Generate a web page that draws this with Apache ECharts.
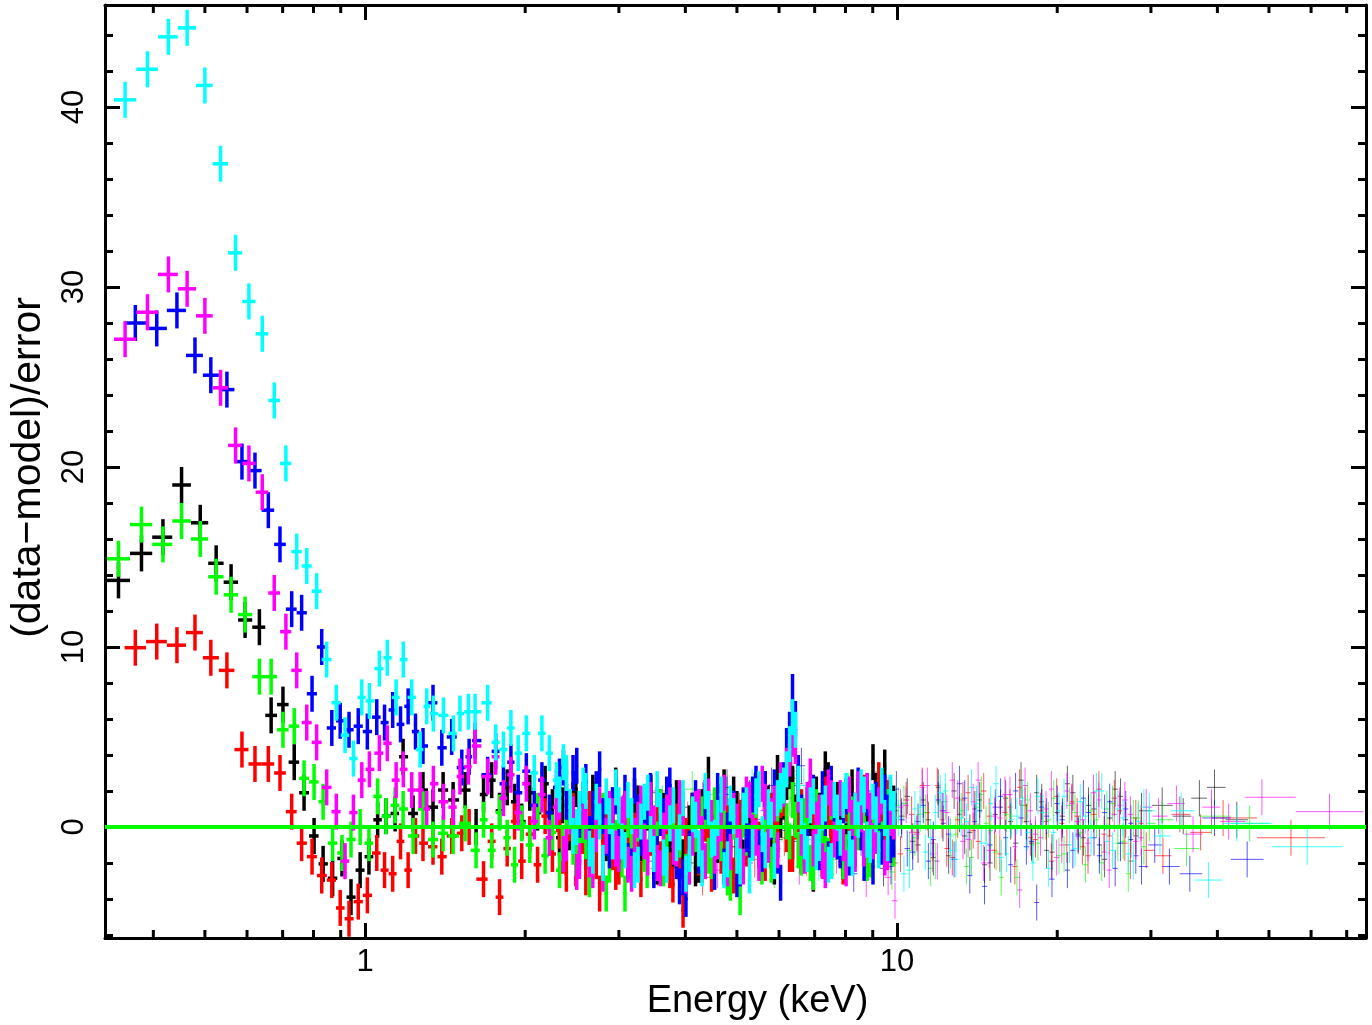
<!DOCTYPE html>
<html>
<head>
<meta charset="utf-8">
<script src="https://cdn.jsdelivr.net/npm/echarts@6/dist/echarts.min.js"></script>
<style>
html,body{margin:0;padding:0;background:#fff;}
#main{width:1372px;height:1025px;}
</style>
</head>
<body>
<div id="main"></div>
<script>
// ---------- data: [energy keV, (data-model)/error], errors are +-1 sigma ----------
// thick points (low energy, 0.3-10 keV)
var blackLow = [[0.344,13.7],[0.380,15.2],[0.417,16.1],[0.452,19.0],[0.490,16.9],[0.525,14.65],[0.560,13.6],[0.595,11.5],[0.633,11.1],[0.666,6.2],[0.701,6.8],[0.736,3.6],[0.768,1.9],[0.802,-0.5],[0.834,-2.05],[0.869,-2.85],[0.905,-1.75],[0.941,-3.9],[0.979,-2.4],[1.017,-1.65],[1.056,0.4],[1.095,0.6],[1.139,0.75],[1.179,3.9],[1.231,0.75],[1.285,2.05],[1.342,1.1],[1.402,2.05],[1.464,1.5],[1.542,2.05],[1.617,0.0]];
var greenLow = [[0.344,14.9],[0.380,16.8],[0.417,15.7],[0.452,17.0],[0.490,16.0],[0.525,13.9],[0.560,12.9],[0.595,11.8],[0.633,8.35],[0.666,8.35],[0.701,5.4],[0.736,5.6],[0.768,2.7],[0.802,2.5],[0.834,1.4],[0.869,-0.9],[0.905,-1.45],[0.941,-0.7],[0.979,0.0],[1.017,-0.9],[1.056,1.7],[1.095,0.6],[1.139,1.2],[1.179,1.0],[1.231,-0.5],[1.285,1.0],[1.342,-0.7],[1.402,-0.35],[1.464,-0.5],[1.542,0.2],[1.617,-1.3]];
var redLow = [[0.370,9.96],[0.406,10.3],[0.443,10.1],[0.479,10.8],[0.513,9.4],[0.550,8.7],[0.587,4.3],[0.621,3.5],[0.658,3.5],[0.692,3.0],[0.728,0.85],[0.760,-0.9],[0.795,-1.65],[0.829,-2.7],[0.866,-2.95],[0.898,-4.5],[0.933,-5.1],[0.971,-4.15],[1.010,-3.8],[1.052,-1.45],[1.088,-2.4],[1.127,-2.6],[1.166,-0.8],[1.205,-2.4],[1.244,-0.5],[1.285,-0.9],[1.342,-1.1],[1.394,-1.65],[1.455,-0.5],[1.520,-0.35],[1.569,0.0]];
var blueLow = [[0.370,28.0],[0.406,27.7],[0.443,28.7],[0.479,26.2],[0.513,25.1],[0.550,24.3],[0.587,20.3],[0.621,19.8],[0.658,17.6],[0.692,15.7],[0.728,12.1],[0.760,11.9],[0.795,7.4],[0.829,10.0],[0.866,5.5],[0.898,5.9],[0.933,5.4],[0.971,5.6],[1.010,5.3],[1.052,6.1],[1.088,5.8],[1.127,6.5],[1.166,5.7],[1.205,6.7],[1.244,5.3],[1.285,4.5],[1.342,6.9],[1.394,4.4],[1.455,5.0],[1.520,3.3],[1.569,3.9]];
var magentaLow = [[0.354,27.1],[0.390,28.6],[0.427,30.7],[0.463,29.9],[0.500,28.4],[0.535,24.4],[0.571,21.2],[0.605,20.2],[0.641,18.6],[0.675,13.0],[0.710,10.85],[0.744,8.7],[0.777,5.8],[0.811,4.7],[0.847,2.2],[0.883,0.85],[0.917,-1.9],[0.951,0.8],[0.986,2.6],[1.019,3.2],[1.064,4.1],[1.101,4.65],[1.144,2.6],[1.180,3.2],[1.224,2.05],[1.269,2.05],[1.306,1.0],[1.344,2.4],[1.404,1.4],[1.466,1.1],[1.508,2.8],[1.564,3.35]];
var cyanLow = [[0.354,40.4],[0.390,42.1],[0.427,43.9],[0.463,44.4],[0.500,41.2],[0.535,36.85],[0.571,31.9],[0.605,29.2],[0.641,27.4],[0.675,23.7],[0.710,20.2],[0.744,15.3],[0.777,14.5],[0.811,13.1],[0.847,9.3],[0.883,6.9],[0.917,5.1],[0.951,3.8],[0.986,7.2],[1.019,7.0],[1.064,8.8],[1.101,9.4],[1.144,7.2],[1.180,9.3],[1.224,7.2],[1.269,4.3],[1.306,6.7],[1.344,6.3],[1.404,6.2],[1.466,5.2],[1.508,6.3],[1.564,6.4]];

// thick points, dense part (channel energies shared per detector group)
var gridA = [1.67,1.73,1.79,1.85,1.91,1.97,2.04,2.11,2.18,2.25,2.32,2.39,2.46,2.53,2.60,2.68,2.76,2.84,2.92,3.00,3.08,3.17,3.26,3.35,3.44,3.54,3.64,3.74,3.85,3.96,4.07,4.18,4.30,4.42,4.54,4.67,4.80,4.93,5.07,5.21,5.35,5.50,5.65,5.80,5.96,6.12,6.28,6.44,6.61,6.78,6.96,7.14,7.33,7.52,7.72,7.92,8.13,8.34,8.56,8.78,9.01,9.24,9.48,9.72];
var gridA2 = [2.35,2.42,2.49,2.56,2.64,2.72,2.80,2.88,2.96,3.04,3.12,3.21,3.30,3.39,3.49,3.59,3.69,3.79,3.90,4.01,4.12,4.24,4.36,4.48,4.60,4.73,4.86,5.00,5.14,5.28,5.42,5.57,5.72,5.88,6.04,6.20,6.36,6.52,6.69,6.87,7.05,7.23,7.42,7.62,7.82,8.02,8.23,8.45,8.67,8.90,9.12,9.36,9.60,9.85];
var gridB = [1.61,1.70,1.76,1.82,1.88,1.94,2.01,2.08,2.15,2.22,2.29,2.36,2.43,2.50,2.57,2.64,2.72,2.80,2.88,2.96,3.04,3.12,3.21,3.30,3.40,3.49,3.59,3.69,3.80,3.90,4.01,4.13,4.24,4.36,4.48,4.60,4.73,4.86,5.00,5.14,5.28,5.43,5.58,5.73,5.88,6.04,6.20,6.36,6.52,6.70,6.87,7.05,7.24,7.43,7.62,7.82,8.02,8.24,8.45,8.67,8.90,9.13,9.36,9.60,9.85];
var gridB2 = [2.32,2.39,2.46,2.53,2.60,2.68,2.76,2.84,2.92,3.00,3.08,3.17,3.26,3.35,3.44,3.54,3.64,3.74,3.85,3.96,4.07,4.18,4.30,4.42,4.54,4.67,4.80,4.93,5.07,5.21,5.35,5.50,5.65,5.80,5.96,6.12,6.28,6.44,6.61,6.78,6.96,7.14,7.33,7.52,7.72,7.92,8.13,8.34,8.56,8.78,9.01,9.24,9.48,9.72];

var blackDense = [1.8,2.6,0.9,2.2,1.4,0.3,1.9, 0.8,2.4,1.1,-0.6,2.7,1.5,0.2,-1.4, 1.9,0.5,-0.9,1.2,-1.8,0.7,-0.4, 1.3,-1.1,0.4,-2.2,0.9,-0.5,1.6,-1.7, 0.2,-2.3,1.1,2.9,-0.8,0.5,-1.5,1.8, -2.0,0.6,1.3,-0.9,2.1,-1.3,3.0, 1.4,3.1,0.8,-1.6,1.2,-2.6, 0.9,3.2,-0.7,1.5,-1.9, 0.4,-1.2,1.9,0.3,3.6,-0.9,3.3,0.6];
var blackDense2 = [1.2,-0.3,2.1,0.6,-1.1,1.5,0.2,-0.7,2.3, -1.2,0.5,1.7,-0.9,0.8,-1.9,1.1,0.1,-1.3, 1.4,-0.6,0.9,-2.1,1.6,0.3,-1.0,2.2,-0.4, 1.0,-1.7,0.6,2.0,-0.8,1.3,-2.2,0.4,2.5, 2.4,0.9,-1.1,0.5,1.8,-1.4,2.6,-0.3,1.1, -0.8,2.2,0.1,1.4,-1.5,2.0,0.5,-0.6,1.3];
var redDense = [-2.9,-0.8,-3.9,-1.2,0.3,-1.9,-0.4, -2.1,0.6,-1.5,-0.2,-2.6,0.9,-1.1,-2.8, -0.5,-3.7,0.2,-1.4,-2.2,0.8,-0.9, -1.8,0.4,-0.6,1.2,-1.3,-2.4,0.3,-4.6, -1.0,0.7,-2.1,-0.3,1.0,-1.6,0.2,-2.7, 0.5,-1.2,1.4,-0.7,-2.0,0.9,-0.4, 1.6,-1.5,0.3,1.1,-0.9,0.6, -1.3,1.8,-0.5,0.4,-2.2, 0.8,-0.6,1.3,-1.8,0.2,2.6,-0.3,0.9];
var redDense2 = [-1.6,0.2,-2.3,-0.5,1.0,-1.9,-0.8,0.5,-2.5, 0.3,-1.4,-0.2,-2.9,0.9,-0.7,-1.8,0.6,-3.2, -2.0,-0.5,0.8,-1.7,0.2,-2.6,0.9,-0.8,-1.3, -2.4,0.6,-0.9,1.2,-1.6,0.3,-0.6,1.5,-0.4, -1.5,0.7,-1.0,1.4,-0.3,-1.8,1.1,0.2,-1.2, 1.3,-0.9,0.4,1.9,-1.3,0.7,-0.2,1.6,-0.8];
var greenDense = [0.4,-1.3,0.8,-0.6,-2.1,0.2,-1.0, 0.9,-1.6,-0.3,-2.4,0.5,-1.1,0.1,-0.8, -1.9,0.6,-3.7,-0.5,0.3,-3.7,-1.2, 0.2,-1.5,0.9,-0.7,-2.3,0.4,-1.1,1.0, -2.2,-0.4,0.7,-1.6,1.2,-0.9,-2.8,0.3, -3.9,-0.6,1.0,-1.4,0.5,-2.1,1.3, 2.2,-0.8,0.4,-1.7,0.9,-2.5, 0.6,-1.2,1.4,-0.4,-1.9, 1.1,-0.7,0.3,-2.0,0.8,-1.0,1.5,-0.6];
var greenDense2 = [-0.9,0.6,-1.7,0.1,-2.9,-0.4,0.9,-2.1,-0.6, -1.8,0.4,-1.0,0.8,-2.4,-0.2,1.1,-1.4,0.2, -0.7,-2.5,0.6,-1.2,0.9,-1.9,-0.3,1.0,-3.1, -1.6,0.4,-0.9,1.5,-2.2,0.7,-1.1,1.8,0.3, 1.5,-1.3,0.6,-2.0,1.1,-0.5,-1.6,0.8,-0.9, -1.4,0.7,-0.3,1.2,-1.8,0.4,-0.7,1.1,-1.2];
var blueDense = [4.8,2.9,4.2,2.4,3.6,1.9, 3.1,1.2,2.6,0.8,2.2,3.3,1.0, 3.4,1.5,-0.4,2.1,0.6,-1.3,1.7, 0.2,-1.9,2.3,-0.6,1.1,-2.4, 0.5,1.8,-1.0,-3.3,-4.0,0.9, -1.6,1.4,-0.3,2.0,-2.2,0.6, -2.9,1.2,-0.8,2.4,-1.5, 0.7,2.2,-3.1,4.5, 7.5,3.0,-1.2,1.6, -0.5,2.1,-1.8,0.9, -1.3,1.7,-0.2,2.3,-2.0,0.4,1.5,-1.1,0.8,-0.7];
var blueDense2 = [2.8,1.4,3.0,0.4,2.5,1.0,3.2,-0.6,1.2, -1.0,1.9,-2.2,0.8,-0.4,2.0,-1.5,0.6,2.3, -1.9,-2.8,-1.2,1.6,-0.7,0.9,-2.5,1.4,-0.2, 1.0,-2.3,-0.4,1.8,-1.2,2.1,0.3,-1.6,2.6, 5.4,6.0,0.8,-0.9,1.9,-1.4,0.5,2.4,-0.8, 1.2,-1.7,0.9,-0.3,1.6,-2.2,0.8,1.9,-1.0];
var magentaDense = [4.5,2.8,3.9,1.6,2.9,0.8, 2.4,0.3,1.8,-0.6,1.1,-1.5,0.6, -2.5,0.9,-1.8,-0.4,-2.6,1.0,-1.2, 0.7,-2.1,-0.5,1.3,-1.7,0.2, -2.3,0.8,-1.1,1.6,-2.7,-0.6, 1.1,-1.9,0.5,-0.8,1.9,-1.4, 0.3,-2.2,1.5,-0.6,2.4, -1.0,1.3,2.6,3.4, 4.9,1.8,-1.6,2.8, 0.4,-1.9,2.2,-0.7, 1.6,-2.3,0.5,2.1,-1.2,0.9,-0.5,1.7,-1.4,0.3];
var magentaDense2 = [1.4,-0.9,0.7,-1.9,0.3,-2.4,1.2,-0.5,0.6, -1.5,1.0,-2.6,0.4,-0.8,1.5,-2.0,-0.2,1.2, -1.2,0.5,-2.2,1.0,-0.4,1.7,-1.6,0.2,-2.3, 0.9,-1.1,1.8,-0.3,-2.0,1.4,0.6,-1.3,2.1, 3.8,4.5,-0.6,1.5,-1.2,0.8,-2.4,1.6,0.2, -0.9,1.8,-1.5,0.7,2.0,-0.8,1.2,-1.7,0.5];
var cyanDense = [6.4,6.9,4.7,4.3,5.5,4.1, 5.2,3.0,5.2,4.1,2.6,3.6,1.1, 0.0,2.3,-1.2,1.4,-2.0,0.6,2.2, -0.8,1.5,-2.4,0.3,1.9,-1.5, 0.9,-2.1,1.2,-0.3,-2.6,0.7, -1.2,2.0,-0.7,0.5,-2.4,1.3, -1.6,0.9,-2.7,1.7,-0.4, 1.1,-1.9,2.0,3.2, 6.1,2.4,-0.8,1.2, -1.4,0.8,-2.1,1.5, -0.6,2.0,-1.7,0.4,1.8,-1.0,0.7,2.3,-0.9,1.0];
var cyanDense2 = [1.8,3.0,-0.5,1.0,2.0,-1.6,0.3,1.7,-0.8, 1.2,-1.3,0.6,-2.1,1.4,-0.4,2.1,-1.7,0.2, -0.9,1.6,-1.5,0.4,-2.3,1.0,-0.6,1.8,-1.8, 0.6,-2.2,1.2,-0.9,2.1,-1.3,0.4,1.6,2.3, 4.6,5.4,0.6,-1.5,1.7,-0.9,1.3,-1.9,0.8, 1.5,-1.2,0.9,2.2,-0.7,1.4,-1.3,0.5,1.9];

// thin points (hard X-ray detector, 3-76 keV)
var gridC1 = [3.05,3.25,3.47,3.70,3.95,4.21,4.49,4.79,5.11,5.45,5.81,6.20,6.61,7.05,7.52,8.02,8.56,9.13,9.74,10.2,10.7,11.2,11.7,12.2,12.8,13.4,14.0,14.6,15.3,16.0,16.7,17.5,18.3,19.1,20.0,20.9,21.9,22.9,24.0,25.1,26.3,27.5,28.8];
var gridC2 = [3.12,3.33,3.55,3.79,4.04,4.31,4.60,4.90,5.23,5.58,5.95,6.34,6.76,7.21,7.69,8.20,8.75,9.33,9.91,10.4,10.9,11.4,11.9,12.4,13.0,13.6,14.2,14.9,15.6,16.3,17.0,17.8,18.6,19.5,20.4,21.3,22.3,23.4,24.5,25.6,26.8,28.1,29.4];
var gridC3 = [3.18,3.40,3.62,3.87,4.12,4.40,4.69,5.00,5.34,5.69,6.07,6.47,6.90,7.36,7.85,8.38,8.93,9.52,10.05,10.55,11.05,11.55,12.05,12.6,13.2,13.8,14.4,15.0,15.7,16.4,17.2,18.0,18.8,19.7,20.6,21.6,22.6,23.7,24.8,26.0,27.2,28.4,29.8];
var gridC1b = [4.95,5.28,5.63,6.00,6.40,6.83,7.28,7.77,8.29,8.84,9.43,9.97,10.45,10.95,11.45,11.95,12.5,13.1,13.7,14.3,14.95,15.65,16.35,17.1,17.9,18.7,19.55,20.45,21.4,22.4,23.45,24.55,25.7,26.9,28.1];
var gridC2b = [5.06,5.40,5.76,6.14,6.55,6.98,7.45,7.94,8.47,9.04,9.62,10.15,10.65,11.15,11.65,12.15,12.7,13.3,13.9,14.55,15.25,15.95,16.65,17.4,18.2,19.05,19.95,20.85,21.8,22.85,23.95,25.05,26.2,27.45,28.75];
var gridC3b = [5.17,5.51,5.88,6.27,6.68,7.13,7.60,8.11,8.65,9.22,9.78,10.3,10.8,11.3,11.8,12.32,12.9,13.5,14.1,14.7,15.35,16.05,16.8,17.6,18.4,19.25,20.15,21.1,22.1,23.15,24.25,25.4,26.6,27.8,29.1];

var blackThin = [0.8,-1.2,1.9,-0.4,1.1,-2.0,0.3,2.2,-0.9,1.4,-1.6,2.8,0.5,-1.1,1.7,-0.3,0.9,2.1,-1.4, 0.6,-0.8,1.5,-1.7,0.2,2.0,-0.5,1.0,-2.1,0.7,1.6,-0.9,0.3,1.9,-1.3,0.8,2.4,-0.4,1.2,-1.0,0.5,1.7,-0.7,0.9];
var blackThin2 = [-1.1,1.6,0.2,-0.7,2.3,0.8,-1.5, 1.2,-0.4,2.0,-2.3,0.9,1.7,-1.0, 0.4,2.2,-1.6,0.7,-0.3,1.5,-2.0, 1.1,0.3,2.6,-0.9,1.4,-1.4,0.6, 1.9,-0.6,1.0,-1.8,2.1,0.4,-0.5];
var blueThin = [-0.6,1.3,-1.9,0.7,-2.6,1.0,-0.8,1.8,-1.3,0.4,2.3,-0.2,3.4,1.1,-1.5,0.8,-0.6,1.5,-2.2, 0.4,-1.4,1.2,-0.7,0.9,-1.8,1.6,0.3,-3.3,1.1,-0.6,2.0,-1.1,-4.2,0.6,1.3,-2.4,-0.5,0.8,-1.6,1.4,-0.9,0.2,-2.2];
var blueThin2 = [1.4,-2.0,0.9,2.5,-0.8,1.2,-1.7, 0.6,-2.6,1.3,-0.5,2.1,-1.2,0.3, -1.9,1.5,-0.4,2.4,-2.7,0.9,-1.0, 1.7,-2.1,0.5,-0.8,1.1,-2.9,0.4, -1.3,1.6,-0.6,0.8,-2.3,1.0,-1.6];
var redThin = [-1.4,0.6,-2.3,1.2,-0.7,-2.8,0.9,-1.1,1.6,-0.4,0.8,2.7,-1.7,0.3,1.3,-0.9,2.0,0.5,-2.0, 1.5,-0.3,0.8,2.3,-1.2,0.4,1.9,-0.8,0.6,-1.5,1.1,2.2,-0.6,0.9,-1.9,0.2,1.4,-1.1,0.7,-0.4,1.6,-0.9,0.5,-1.3];
var redThin2 = [0.9,-1.8,1.4,-0.6,2.4,-1.2,0.5, -2.1,1.1,-0.3,1.8,-1.5,0.7,2.3, -0.9,0.4,-1.7,1.5,-0.2,2.0,-1.3, 0.8,-2.2,1.2,-0.7,0.3,1.7,-1.0, 0.6,-1.6,2.1,-0.5,0.9,-1.9,0.2];
var magentaThin = [1.1,-0.9,2.0,-1.8,0.4,1.5,-2.4,0.7,-0.5,1.9,-1.2,3.1,0.2,1.4,-1.6,0.9,-2.9,1.7,-4.1, 1.2,-0.4,2.3,-1.9,0.8,1.6,-0.7,2.6,-1.3,0.5,1.8,-3.5,0.9,-0.6,2.1,-1.0,1.3,0.4,1.9,-1.4,0.7,1.5,-0.8,1.1];
var magentaThin2 = [-1.3,2.1,-0.6,1.3,-2.2,0.8,2.5, -1.0,0.4,1.9,-2.8,1.1,-0.3,2.2, -1.5,0.9,2.6,-0.8,1.4,-2.0,0.6, 1.8,-1.1,2.3,-0.4,1.0,-1.7,2.0, 0.3,-0.9,1.5,-2.4,1.2,0.7,-0.6];
var greenThin = [0.5,-1.6,1.3,-0.3,2.1,-1.0,0.8,-2.2,1.5,-0.6,0.2,2.4,-1.4,0.9,-0.8,1.7,-1.9,0.4,1.2, -1.3,0.7,-2.3,1.4,-0.5,0.9,-1.7,1.8,-0.2,-2.8,0.6,1.2,-1.0,0.3,1.6,-1.5,0.8,-2.1,0.4,1.0,-0.9,-2.6,0.5,0.2];
var greenThin2 = [1.0,-0.7,-2.4,1.6,-0.2,0.9,-1.8, 2.0,-1.1,0.5,-2.5,1.3,-0.6,0.8, -1.9,1.4,-0.4,-2.2,1.1,0.2,-1.4, 0.7,-2.8,1.5,-0.9,0.4,-1.6,1.2, -0.3,0.9,-2.0,1.3,-0.8,0.5,-1.1];
var cyanThin = [-0.9,1.4,-2.1,0.6,-0.4,1.8,-1.5,0.3,2.2,-1.2,1.0,2.9,-0.7,1.5,-1.8,0.8,2.0,-1.0,0.5, -2.4,1.1,-0.6,1.9,-1.3,0.5,2.2,-0.9,1.3,-1.7,0.4,1.6,-2.0,0.8,-0.3,1.7,-1.2,0.6,2.0,-0.8,1.0,-1.5,0.3,0.9];
var cyanThin2 = [0.7,-1.5,1.9,-0.8,2.3,-2.0,0.4, 1.6,-1.2,2.2,-0.5,-2.6,1.0,-1.4, 0.8,2.0,-1.8,0.3,1.3,-0.9,2.4, -1.5,0.6,-0.3,1.7,-2.3,0.9,-1.0, 1.4,-0.6,2.0,-1.3,0.5,-1.9,1.1];
// wide high-energy bins
var blackTail = [[31.5,1.2],[34.5,0.6],[37.0,1.6],[39.5,2.2],[43.5,0.4]];
var redTail = [[31.6,-1.6],[34.0,0.7],[37.2,-0.3],[41.0,0.5],[55.0,-0.6]];
var greenTail = [[31.5,0.4],[35.0,-1.2],[39.0,0.6],[46.0,0.2]];
var blueTail = [[30.5,-1.0],[32.5,-2.2],[35.5,-2.6],[39.5,0.5],[45.5,-1.8]];
var magentaTail = [[31.0,0.6],[33.5,1.3],[36.0,-0.4],[39.0,1.1],[42.0,0.3],[48.5,1.65],[65.0,0.85]];
var cyanTail = [[31.2,-0.5],[34.2,0.9],[38.5,-2.95],[43.5,0.2],[59.0,-1.1]];

var xMinorTicks = [0.4,0.5,0.6,0.7,0.8,0.9,2,3,4,5,6,7,8,9,20,30,40,50,60,70];

var X_MIN = 0.3245, X_MAX = 76.1, Y_MIN = -6.17, Y_MAX = 45.67;

// sort channels, bin edges halfway (in log) between neighbouring channels
function withBins(pts) {
  pts = pts.slice().sort(function (a, b) { return a[0] - b[0]; });
  var out = [];
  for (var i = 0; i < pts.length; i++) {
    var e = pts[i][0];
    var lo = i > 0 ? Math.sqrt(pts[i - 1][0] * e) : e * e / Math.sqrt(e * pts[i + 1][0]);
    var hi = i < pts.length - 1 ? Math.sqrt(e * pts[i + 1][0]) : e * e / Math.sqrt(pts[i - 1][0] * e);
    out.push([e, pts[i][1], lo, hi]);
  }
  return out;
}
function zipE(es, rs) {
  return es.map(function (e, i) { return [e, rs[i]]; });
}

function crossSeries(name, pts, color, width, opacity, z) {
  return {
    type: 'custom',
    name: name,
    clip: true,
    z: z,
    encode: { x: 0, y: 1 },
    data: withBins(pts),
    renderItem: function (params, api) {
      var e = api.value(0), r = api.value(1);
      var l = api.coord([api.value(2), r]), h = api.coord([api.value(3), r]);
      var t = api.coord([e, r + 1]), b = api.coord([e, r - 1]);
      var st = { stroke: color, lineWidth: width, opacity: opacity };
      return {
        type: 'group',
        children: [
          { type: 'line', shape: { x1: l[0], y1: l[1], x2: h[0], y2: h[1] }, style: st },
          { type: 'line', shape: { x1: t[0], y1: t[1], x2: b[0], y2: b[1] }, style: st }
        ]
      };
    }
  };
}

var FONT = 'Liberation Sans';
var series = [
  crossSeries('black thin', zipE(gridC1, blackThin).concat(zipE(gridC1b, blackThin2), blackTail), '#000000', 1, 0.6, 2),
  crossSeries('red thin', zipE(gridC2, redThin).concat(zipE(gridC2b, redThin2), redTail), '#ff0000', 1, 0.65, 2),
  crossSeries('green thin', zipE(gridC3, greenThin).concat(zipE(gridC3b, greenThin2), greenTail), '#00ff00', 1, 0.65, 2),
  crossSeries('blue thin', zipE(gridC1, blueThin).concat(zipE(gridC1b, blueThin2), blueTail), '#0000ff', 1, 0.65, 2),
  crossSeries('magenta thin', zipE(gridC2, magentaThin).concat(zipE(gridC2b, magentaThin2), magentaTail), '#ff00ff', 1, 0.65, 2),
  crossSeries('cyan thin', zipE(gridC3, cyanThin).concat(zipE(gridC3b, cyanThin2), cyanTail), '#00ffff', 1, 0.75, 2),
  crossSeries('black', blackLow.concat(zipE(gridA, blackDense), zipE(gridA2, blackDense2)), '#000000', 3.5, 1, 3),
  crossSeries('red', redLow.concat(zipE(gridA, redDense), zipE(gridA2, redDense2)), '#ff0000', 3.5, 1, 3),
  crossSeries('green', greenLow.concat(zipE(gridA, greenDense), zipE(gridA2, greenDense2)), '#00ff00', 3.5, 1, 3),
  crossSeries('blue', blueLow.concat(zipE(gridB, blueDense), zipE(gridB2, blueDense2)), '#0000ff', 3.5, 1, 3),
  crossSeries('magenta', magentaLow.concat(zipE(gridB, magentaDense), zipE(gridB2, magentaDense2)), '#ff00ff', 3.5, 1, 3),
  crossSeries('cyan', cyanLow.concat(zipE(gridB, cyanDense), zipE(gridB2, cyanDense2)), '#00ffff', 3.5, 1, 3),
  {
    type: 'line',
    name: 'model',
    z: 5,
    symbol: 'none',
    silent: true,
    data: [[X_MIN, 0], [X_MAX, 0]],
    lineStyle: { color: '#00ff00', width: 4 }
  },
  {
    // minor ticks of the log energy axis (bottom and top)
    type: 'custom',
    z: 6,
    silent: true,
    encode: { x: 0, y: 1 },
    data: xMinorTicks.map(function (v) { return [v, Y_MIN]; }),
    renderItem: function (params, api) {
      var b = api.coord([api.value(0), Y_MIN]);
      var t = api.coord([api.value(0), Y_MAX]);
      var st = { stroke: '#000', lineWidth: 3 };
      return {
        type: 'group',
        children: [
          { type: 'line', shape: { x1: b[0], y1: b[1], x2: b[0], y2: b[1] - 8 }, style: st },
          { type: 'line', shape: { x1: t[0], y1: t[1], x2: t[0], y2: t[1] + 8 }, style: st }
        ]
      };
    }
  }
];

var axisLineStyle = { show: true, onZero: false, lineStyle: { color: '#000', width: 3 } };
var chart = echarts.init(document.getElementById('main'));
chart.setOption({
  animation: false,
  backgroundColor: '#ffffff',
  grid: { left: 105, right: 6, top: 5, bottom: 87, containLabel: false, outerBoundsMode: 'none' },
  xAxis: [
    {
      type: 'log', logBase: 10, min: X_MIN, max: X_MAX, position: 'bottom',
      name: 'Energy (keV)', nameLocation: 'middle', nameGap: 44,
      nameTextStyle: { color: '#000', fontSize: 38, fontFamily: FONT, padding: [0, 0, 0, 44] },
      axisLine: axisLineStyle,
      axisTick: { inside: true, length: 15, lineStyle: { color: '#000', width: 3 } },
      axisLabel: { color: '#000', fontSize: 31, fontFamily: FONT, margin: 9, showMinLabel: false, showMaxLabel: false },
      splitLine: { show: false }
    },
    {
      type: 'log', logBase: 10, min: X_MIN, max: X_MAX, position: 'top',
      axisLine: axisLineStyle,
      axisTick: { inside: true, length: 15, lineStyle: { color: '#000', width: 3 } },
      axisLabel: { show: false },
      splitLine: { show: false }
    }
  ],
  yAxis: [
    {
      type: 'value', min: Y_MIN, max: Y_MAX, splitNumber: 5, position: 'left',
      name: '(data\u2212model)/error', nameLocation: 'middle', nameGap: 56, nameRotate: 90,
      nameTextStyle: { color: '#000', fontSize: 41, fontFamily: FONT, padding: [0, 0, 0, 8] },
      axisLine: axisLineStyle,
      axisTick: { inside: true, length: 15, lineStyle: { color: '#000', width: 3 } },
      minorTick: { show: true, splitNumber: 5, length: 8, lineStyle: { color: '#000', width: 3 } },
      axisLabel: { color: '#000', fontSize: 31, fontFamily: FONT, rotate: 90, margin: 15, showMinLabel: false, showMaxLabel: false },
      splitLine: { show: false }
    },
    {
      type: 'value', min: Y_MIN, max: Y_MAX, splitNumber: 5, position: 'right',
      axisLine: axisLineStyle,
      axisTick: { inside: true, length: 15, lineStyle: { color: '#000', width: 3 } },
      minorTick: { show: true, splitNumber: 5, length: 8, lineStyle: { color: '#000', width: 3 } },
      axisLabel: { show: false },
      splitLine: { show: false }
    }
  ],
  series: series
});
</script>
</body>
</html>
